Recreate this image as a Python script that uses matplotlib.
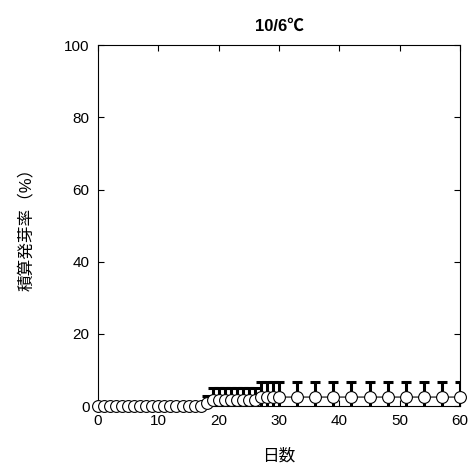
import matplotlib
matplotlib.use('Agg')
import matplotlib.pyplot as plt
import numpy as np

plt.rcParams['font.family'] = ['Liberation Sans', 'Noto Sans CJK JP', 'DejaVu Sans']

# days and cumulative germination (%) with sd
days = list(range(0, 31)) + [33, 36, 39, 42, 45, 48, 51, 54, 57, 60]
rate = [0.0] * 18 + [0.8] + [1.7] * 8 + [2.5] * 4 + [2.5] * 10
sd = [0.0] * 18 + [2.0] + [3.3] * 8 + [4.3] * 4 + [4.3] * 10

title = '10/6℃'
xlabel = '日数'
ylabel = '積算発芽率（%）'

fig = plt.figure(figsize=(4.69, 4.70), dpi=100)
ax = fig.add_axes([0.209, 0.136, 0.772, 0.768])

ax.errorbar(days, rate, yerr=sd, fmt='none', ecolor='black', elinewidth=2.2,
            capsize=3.5, capthick=2.2, zorder=2)
ax.plot(days, rate, color='black', lw=0.8, marker='o', markersize=8.5,
        markerfacecolor='white', markeredgecolor='black', markeredgewidth=0.8,
        clip_on=False, zorder=3)

ax.set_xlim(0, 60)
ax.set_ylim(0, 100)
ax.set_xticks([0, 10, 20, 30, 40, 50, 60])
ax.set_yticks([0, 20, 40, 60, 80, 100])
ax.tick_params(direction='in', top=True, right=True, length=4, width=0.8,
               labelsize=11, pad=6)
for s in ax.spines.values():
    s.set_linewidth(0.8)

ax.set_title(title, fontsize=12, fontweight='bold', pad=10)
ax.set_xlabel(xlabel, fontsize=12, labelpad=14)
ax.set_ylabel(ylabel, fontsize=12, labelpad=22)

fig.savefig('out.png', dpi=100)
